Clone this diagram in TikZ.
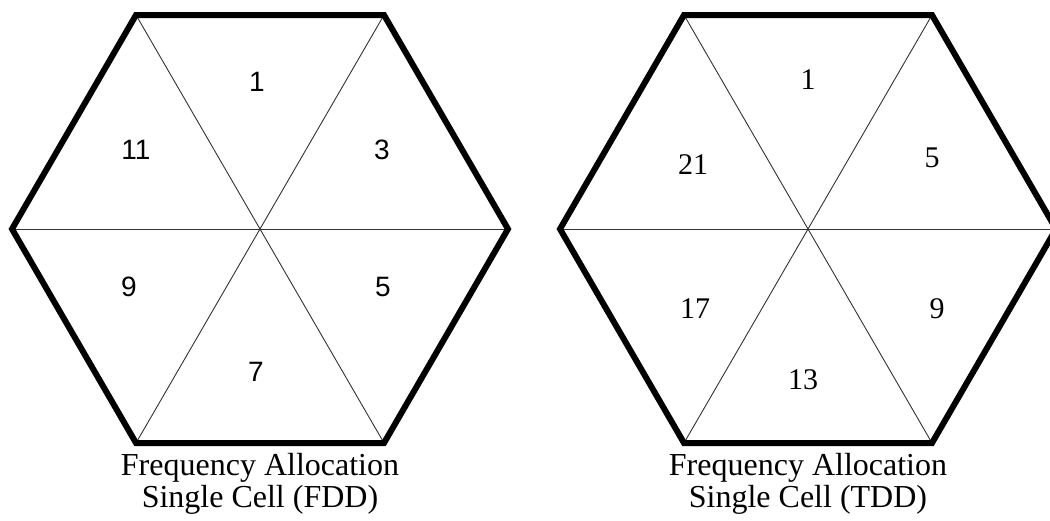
\documentclass[tikz,border=0pt]{standalone}
\usepackage{fontspec}
\setmainfont{Liberation Serif}
\newfontfamily\cellsans{Liberation Sans}
\usetikzlibrary{positioning}

\begin{document}
\begin{tikzpicture}[x=1pt, y=-1pt]
\tikzset{
  rim/.style     = {line width=6pt, line join=miter},
  spoke/.style   = {line width=0.9pt, black!80},
  fddnum/.style  = {inner sep=0pt, font=\cellsans\fontsize{28}{28}\selectfont},
  tddnum/.style  = {inner sep=0pt, font=\fontsize{30}{30}\selectfont},
  caption/.style = {inner sep=0pt, align=center, font=\fontsize{32}{32}\selectfont}
}

% Page
\fill[white] (0,0) rectangle (1050,520);
\useasboundingbox (0,0) rectangle (1050,520);
\clip (0,0) rectangle (1050,520);

% FDD cell corners
\coordinate (fc)  at (260,229);
\coordinate (ftl) at (136,15);
\coordinate (ftr) at (384,15);
\coordinate (fr)  at (508,229);
\coordinate (fbr) at (384,443);
\coordinate (fbl) at (136,443);
\coordinate (fl)  at (12,229);

% TDD cell corners
\coordinate (tc)  at (808,229);
\coordinate (ttl) at (684,15);
\coordinate (ttr) at (932,15);
\coordinate (tr)  at (1056,229);
\coordinate (tbr) at (932,443);
\coordinate (tbl) at (684,443);
\coordinate (tl)  at (560,229);

% Sector lines
\draw[spoke] (fl) -- (fr);
\draw[spoke] (ftl) -- (fbr);
\draw[spoke] (ftr) -- (fbl);
\draw[spoke] (tl) -- (tr);
\draw[spoke] (ttl) -- (tbr);
\draw[spoke] (ttr) -- (tbl);

% Cell borders
\draw[rim] (ftl) -- (ftr) -- (fr) -- (fbr) -- (fbl) -- (fl) -- cycle;
\draw[rim] (ttl) -- (ttr) -- (tr) -- (tbr) -- (tbl) -- (tl) -- cycle;

% FDD sector numbers
\node[fddnum] (fdd1)  at (257,82)  {1};
\node[fddnum] (fdd3)  at (382,150) {3};
\node[fddnum] (fdd5)  at (383,287) {5};
\node[fddnum] (fdd7)  at (256,372) {7};
\node[fddnum] (fdd9)  at (129,287) {9};
\node[fddnum] (fdd11) at (136,150) {11};

% TDD sector numbers
\node[tddnum] (tdd1)  at (808,80)  {1};
\node[tddnum] (tdd5)  at (932,158) {5};
\node[tddnum] (tdd9)  at (937,309) {9};
\node[tddnum] (tdd13) at (803,380) {13};
\node[tddnum] (tdd17) at (695,309) {17};
\node[tddnum] (tdd21) at (693,165) {21};

% Captions
\node[caption] (fddcap) at (260,484) {Frequency Allocation\\Single Cell (FDD)};
\node[caption] (tddcap) at (808,484) {Frequency Allocation\\Single Cell (TDD)};

\end{tikzpicture}
\end{document}
